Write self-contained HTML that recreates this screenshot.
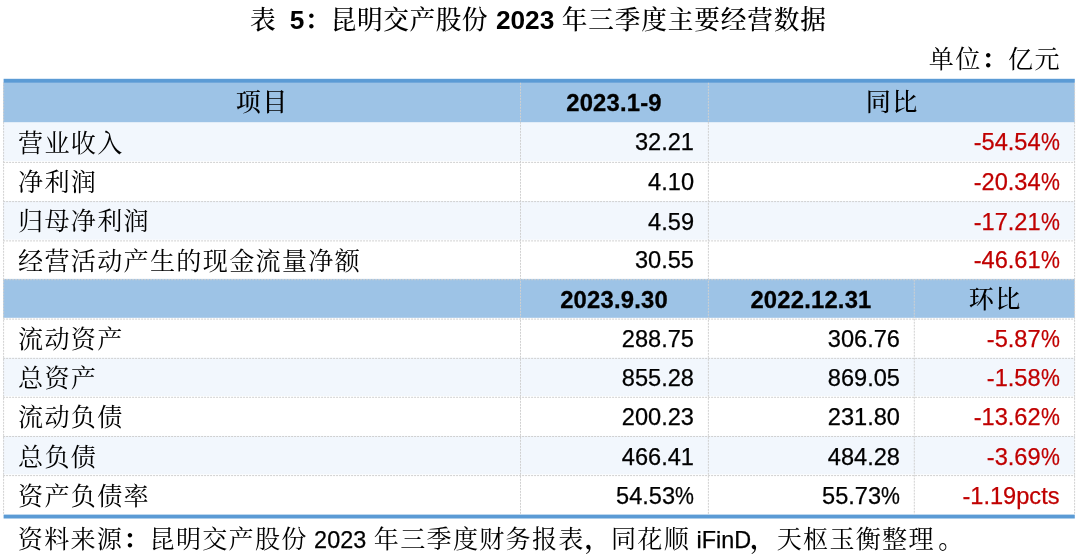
<!DOCTYPE html>
<html lang="zh-CN">
<head>
<meta charset="utf-8">
<title>表 5</title>
<style>
html,body{margin:0;padding:0;background:#fff;}
body{width:1080px;height:559px;position:relative;overflow:hidden;font-family:"Liberation Sans","Noto Serif CJK SC",serif;color:#000;}
.a{position:absolute;white-space:nowrap;}
.zh{font-family:"Liberation Sans","Noto Serif CJK SC",serif;font-size:25.1px;line-height:40px;height:40px;letter-spacing:1.3px;}
.tb{font-weight:bold;font-size:26.25px;letter-spacing:0;}
.hz{font-weight:500;}
.num{font-family:"Liberation Sans",sans-serif;font-size:23.6px;line-height:40px;height:40px;text-align:right;-webkit-text-stroke:0.25px currentColor;}
.num > span{position:relative;top:-0.7px;}
.b > span{top:0;}
.pc{display:inline-block;transform:scaleX(0.9);transform-origin:right center;margin-left:-2.1px;top:0;}
.p{font-weight:700;}
.b{font-weight:bold;font-size:23.8px;letter-spacing:0.2px;text-align:center;-webkit-text-stroke:0.3px currentColor;}
.red{color:#c00000;}
.lat{font-family:"Liberation Sans",sans-serif;font-size:23.4px;letter-spacing:0;-webkit-text-stroke:0.25px currentColor;}
.c{text-align:center;}
.zh.c > span{margin-left:1.3px;}
.bg{position:absolute;}
</style>
</head>
<body>
<div class="a zh" id="title" style="left:250.1px;top:-0.2px;font-size:25.7px;font-weight:500;letter-spacing:0.55px;"><span>表<span class="tb" style="margin-left:6.2px"> </span><b class="tb">5</b><span class="p">：</span>昆明交产股份<span class="tb" style="margin-left:0.5px"> </span><b class="tb">2023</b><span class="tb"> </span><span style="letter-spacing:0.82px">年三季度主要经营数据</span></span></div>
<div class="a zh" id="unit" style="right:19.2px;top:39px;text-align:right;"><span>单位<span class="p">：</span>亿元</span></div>
<svg class="bg" style="left:0;top:0;" width="1080" height="559" viewBox="0 0 1080 559">
<rect x="3.1" y="122.2" width="1071.7" height="39.0" fill="#f2f7fd"/>
<rect x="3.1" y="200.9" width="1071.7" height="38.8" fill="#f2f7fd"/>
<rect x="3.1" y="357.7" width="1071.7" height="38.4" fill="#f2f7fd"/>
<rect x="3.1" y="435.8" width="1071.7" height="38.6" fill="#f2f7fd"/>
<rect x="3.1" y="278.9" width="1071.7" height="38.9" fill="#9dc3e6"/>
<rect x="3.1" y="82.5" width="1071.7" height="39.7" fill="#9dc3e6"/>
<rect x="3.6" y="78.8" width="1071.2" height="4.0" fill="#5b9bd5"/>
<rect x="3.6" y="514.6" width="1071.2" height="3.9" fill="#5b9bd5"/>
<g stroke="#d0d0d0" stroke-width="1" stroke-dasharray="2 1" fill="none">
<line x1="3.1" x2="1074.8" y1="162.4" y2="162.4"/>
<line x1="3.1" x2="1074.8" y1="201.6" y2="201.6"/>
<line x1="3.1" x2="1074.8" y1="240.9" y2="240.9"/>
<line x1="3.1" x2="1074.8" y1="279.7" y2="279.7"/>
<line x1="3.1" x2="1074.8" y1="319.1" y2="319.1"/>
<line x1="3.1" x2="1074.8" y1="358.4" y2="358.4"/>
<line x1="3.1" x2="1074.8" y1="397.3" y2="397.3"/>
<line x1="3.1" x2="1074.8" y1="436.5" y2="436.5"/>
<line x1="3.1" x2="1074.8" y1="475.6" y2="475.6"/>
<line x1="3.6" x2="3.6" y1="82.8" y2="514.6"/>
<line x1="520.5" x2="520.5" y1="82.8" y2="514.6"/>
<line x1="708.4" x2="708.4" y1="82.8" y2="514.6"/>
<line x1="914.3" x2="914.3" y1="279.7" y2="514.6"/>
<line x1="1074.6" x2="1074.6" y1="82.8" y2="514.6"/>
</g></svg>
<div class="a zh c hz" style="left:3px;width:517px;top:82.3px;"><span>项目</span></div>
<div class="a num b" style="left:520px;width:188px;top:83.2px;"><span>2023.1-9</span></div>
<div class="a zh c hz" style="left:708px;width:367px;top:82.3px;"><span>同比</span></div>
<div class="a zh" style="left:18px;width:502px;top:122.84px;"><span>营业收入</span></div>
<div class="a num" style="left:520px;width:174px;top:123.1px;"><span>32.21</span></div>
<div class="a num red" style="left:708px;width:351.5px;top:123.1px;"><span>-54.54<span class="pc">%</span></span></div>
<div class="a zh" style="left:18px;width:502px;top:162.06px;"><span>净利润</span></div>
<div class="a num" style="left:520px;width:174px;top:162.35px;"><span>4.10</span></div>
<div class="a num red" style="left:708px;width:351.5px;top:162.35px;"><span>-20.34<span class="pc">%</span></span></div>
<div class="a zh" style="left:18px;width:502px;top:201.28px;"><span>归母净利润</span></div>
<div class="a num" style="left:520px;width:174px;top:202.4px;"><span>4.59</span></div>
<div class="a num red" style="left:708px;width:351.5px;top:202.4px;"><span>-17.21<span class="pc">%</span></span></div>
<div class="a zh" style="left:18px;width:502px;top:240.5px;"><span>经营活动产生的现金流量净额</span></div>
<div class="a num" style="left:520px;width:174px;top:240.85px;"><span>30.55</span></div>
<div class="a num red" style="left:708px;width:351.5px;top:240.85px;"><span>-46.61<span class="pc">%</span></span></div>
<div class="a num b" style="left:520px;width:188px;top:280.1px;"><span>2023.9.30</span></div>
<div class="a num b" style="left:708px;width:206px;top:280.1px;"><span>2022.12.31</span></div>
<div class="a zh c hz" style="left:914px;width:161px;top:279.1px;"><span>环比</span></div>
<div class="a zh" style="left:18px;width:502px;top:318.94px;"><span>流动资产</span></div>
<div class="a num" style="left:520px;width:174px;top:319.35px;"><span>288.75</span></div>
<div class="a num" style="left:708px;width:192px;top:319.35px;"><span>306.76</span></div>
<div class="a num red" style="left:914px;width:145.5px;top:319.35px;"><span>-5.87<span class="pc">%</span></span></div>
<div class="a zh" style="left:18px;width:502px;top:358.16px;"><span>总资产</span></div>
<div class="a num" style="left:520px;width:174px;top:358.6px;"><span>855.28</span></div>
<div class="a num" style="left:708px;width:192px;top:358.6px;"><span>869.05</span></div>
<div class="a num red" style="left:914px;width:145.5px;top:358.6px;"><span>-1.58<span class="pc">%</span></span></div>
<div class="a zh" style="left:18px;width:502px;top:397.38px;"><span>流动负债</span></div>
<div class="a num" style="left:520px;width:174px;top:397.85px;"><span>200.23</span></div>
<div class="a num" style="left:708px;width:192px;top:397.85px;"><span>231.80</span></div>
<div class="a num red" style="left:914px;width:145.5px;top:397.85px;"><span>-13.62<span class="pc">%</span></span></div>
<div class="a zh" style="left:18px;width:502px;top:436.6px;"><span>总负债</span></div>
<div class="a num" style="left:520px;width:174px;top:437.90000000000003px;"><span>466.41</span></div>
<div class="a num" style="left:708px;width:192px;top:437.90000000000003px;"><span>484.28</span></div>
<div class="a num red" style="left:914px;width:145.5px;top:437.90000000000003px;"><span>-3.69<span class="pc">%</span></span></div>
<div class="a zh" style="left:18px;width:502px;top:475.82px;"><span>资产负债率</span></div>
<div class="a num" style="left:520px;width:174px;top:476.35px;"><span>54.53<span class="pc">%</span></span></div>
<div class="a num" style="left:708px;width:192px;top:476.35px;"><span>55.73<span class="pc">%</span></span></div>
<div class="a num red" style="left:914px;width:145.5px;top:476.35px;"><span>-1.19pcts</span></div>
<div class="a zh" id="src" style="left:17.8px;top:519px;letter-spacing:1.25px;"><span>资料来源<span class="p">：</span>昆明交产股份<span class="lat" style="margin-right:1.2px"> 2023 </span>年三季度财务报表<span class="p">，</span>同花顺<span class="lat" style="margin-right:-0.8px"> iFinD</span><span class="p">，</span>天枢玉衡整理<span class="p" style="margin-left:3.5px">。</span></span></div>
</body>
</html>
